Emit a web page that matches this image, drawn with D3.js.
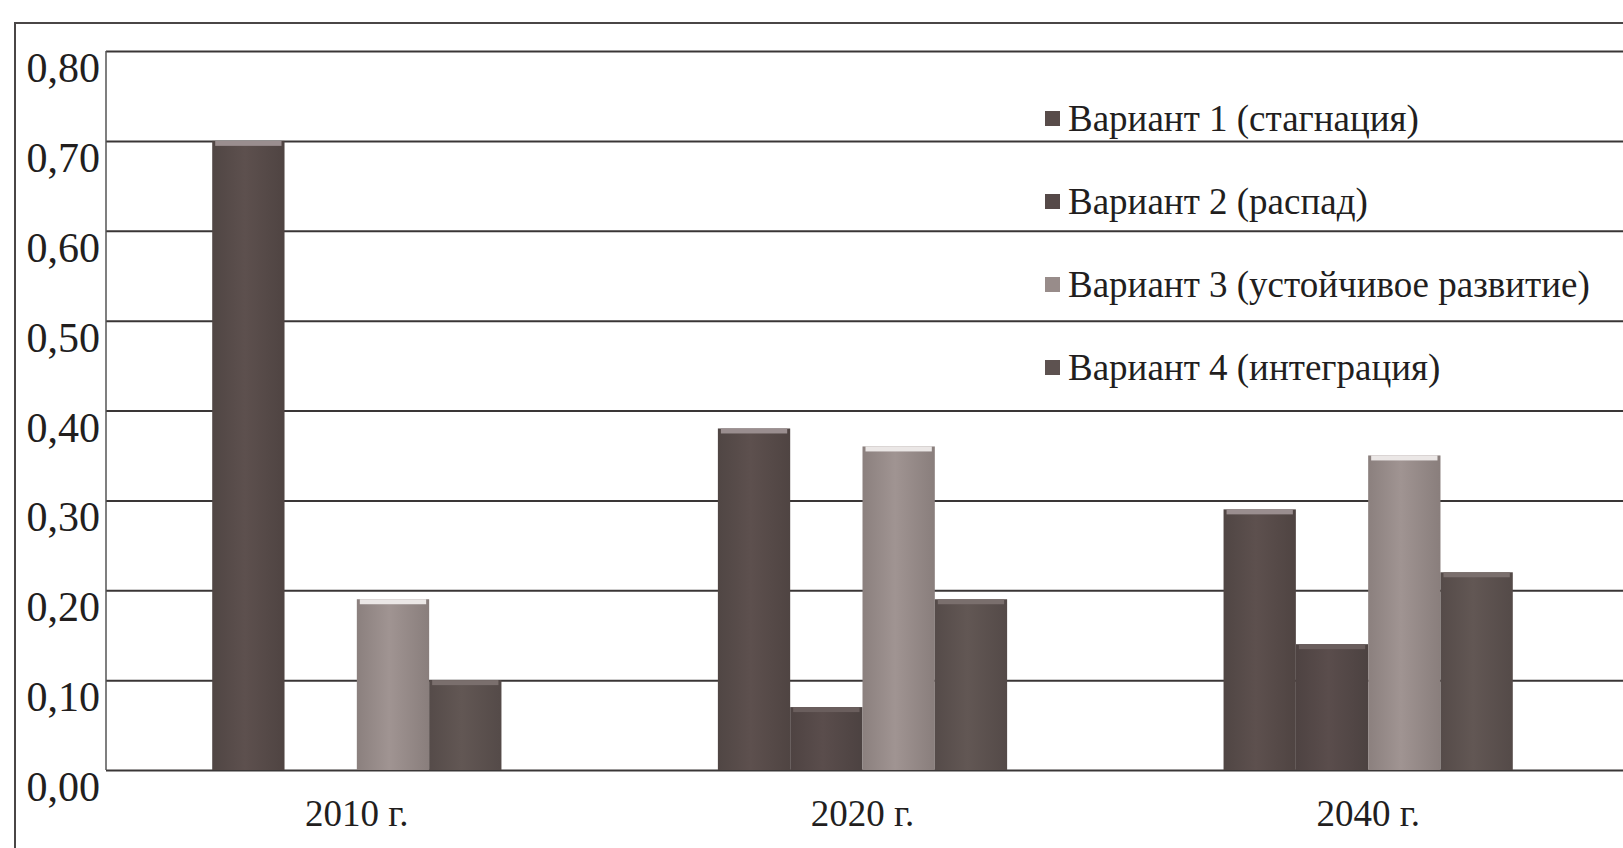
<!DOCTYPE html>
<html>
<head>
<meta charset="utf-8">
<script src="https://cdn.jsdelivr.net/npm/d3@7"></script>
<style>
  body { margin: 0; background: #fff; overflow: hidden; }
  svg text { font-family: "Liberation Serif", "DejaVu Serif", serif; fill: #221e1e; }
  .grid line { stroke: #3a3636; stroke-width: 2; }
  .grid path { display: none; }
</style>
</head>
<body>
<svg id="chart"></svg>
<script>
// data
var years = ['2010 г.', '2020 г.', '2040 г.'];
var variants = ['Вариант 1 (стагнация)', 'Вариант 2 (распад)', 'Вариант 3 (устойчивое развитие)', 'Вариант 4 (интеграция)'];
var v1 = [0.70, 0.38, 0.29];
var v2 = [0.00, 0.07, 0.14];
var v3 = [0.19, 0.36, 0.35];
var v4 = [0.10, 0.19, 0.22];
var yTicks = [0, 0.1, 0.2, 0.3, 0.4, 0.5, 0.6, 0.7, 0.8];

var series = [v1, v2, v3, v4];
var colors = ['#584c4a', '#554948', '#988c8a', '#5d5250'];
var caps = ['#9a8e8f', '#6a5e5d', '#ebe7e6', '#7a6f6d'];

function draw() {
  var W = 1623, H = 848;
  var svg = d3.select('#chart').attr('width', W).attr('height', H);

  var pLeft = 106, pRight = 1621, pTop = 51, pBottom = 770;

  // outer frame of the scanned figure
  svg.append('rect')
    .attr('x', 15).attr('y', 23).attr('width', 1700).attr('height', 900)
    .attr('fill', 'none').attr('stroke', '#4a4646').attr('stroke-width', 2);

  var y = d3.scaleLinear().domain([0, 0.8]).range([pBottom, pTop]);
  var x0 = d3.scaleBand().domain(years).range([pLeft - 2, pRight]).padding(0);
  var bw = x0.bandwidth();
  var x1 = d3.scaleBand().domain(d3.range(series.length)).range([0.214 * bw, 0.786 * bw]).padding(0);

  var fmt = function(d) { return d3.format('.2f')(d).replace('.', ','); };

  // gridlines
  svg.append('g').attr('class', 'grid')
    .attr('transform', 'translate(' + pLeft + ',0)')
    .call(d3.axisLeft(y).tickValues(yTicks).tickSize(-(pRight - pLeft + 10)).tickFormat(''));

  // left axis line
  svg.append('line')
    .attr('x1', pLeft).attr('x2', pLeft).attr('y1', y(0.8)).attr('y2', y(0))
    .attr('stroke', '#555').attr('stroke-width', 1.5);

  // tick labels (sit just below each gridline)
  svg.selectAll('.ylab').data(yTicks).enter().append('text')
    .attr('class', 'ylab')
    .attr('x', pLeft - 6)
    .attr('y', function(d) { return y(d) + 31; })
    .attr('text-anchor', 'end')
    .style('font-size', '42px')
    .text(fmt);

  // gradients for a slightly rounded look
  var defs = svg.append('defs');
  colors.forEach(function(c, i) {
    var g = defs.append('linearGradient').attr('id', 'grad' + i)
      .attr('x1', '0%').attr('x2', '100%').attr('y1', '0%').attr('y2', '0%');
    var base = d3.color(c);
    g.append('stop').attr('offset', '0%').attr('stop-color', base.darker(0.25));
    g.append('stop').attr('offset', '45%').attr('stop-color', base.brighter(0.15));
    g.append('stop').attr('offset', '100%').attr('stop-color', base.darker(0.3));
  });

  // bars
  var rows = [];
  years.forEach(function(yr, i) {
    series.forEach(function(s, j) {
      rows.push({ year: yr, k: j, value: s[i] });
    });
  });

  var bars = svg.append('g').selectAll('g').data(rows.filter(function(d) { return d.value > 0; }))
    .enter().append('g')
    .attr('transform', function(d) { return 'translate(' + (x0(d.year) + x1(d.k)) + ',0)'; });

  bars.append('rect')
    .attr('x', 0)
    .attr('width', x1.bandwidth())
    .attr('y', function(d) { return y(d.value); })
    .attr('height', function(d) { return y(0) - y(d.value); })
    .attr('fill', function(d) { return 'url(#grad' + d.k + ')'; });

  bars.append('rect')
    .attr('x', 3)
    .attr('width', x1.bandwidth() - 6)
    .attr('y', function(d) { return y(d.value); })
    .attr('height', 5)
    .attr('fill', function(d) { return caps[d.k]; });

  // category labels
  svg.selectAll('.xlab').data(years).enter().append('text')
    .attr('class', 'xlab')
    .attr('x', function(d) { return x0(d) + bw / 2; })
    .attr('y', 826)
    .attr('text-anchor', 'middle')
    .style('font-size', '37px')
    .text(function(d) { return d; });

  // legend
  var legend = svg.append('g').selectAll('g').data(variants).enter().append('g')
    .attr('transform', function(d, i) { return 'translate(1045,' + (119 + i * 83) + ')'; });

  legend.append('rect')
    .attr('x', 0).attr('y', -8).attr('width', 15).attr('height', 15)
    .attr('fill', function(d, i) { return colors[i]; });

  legend.append('text')
    .attr('x', 23).attr('y', 12)
    .style('font-size', '37px')
    .text(function(d) { return d; });
}

draw();
</script>
</body>
</html>
